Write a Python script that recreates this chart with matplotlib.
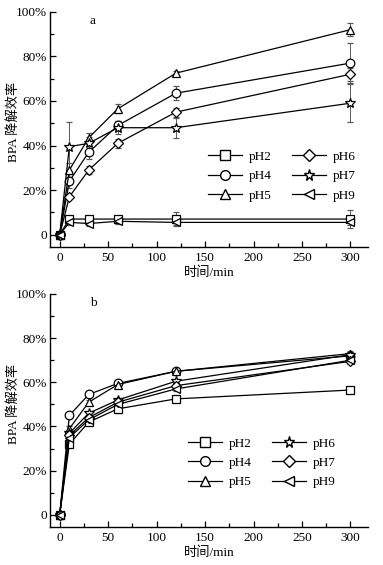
import matplotlib
matplotlib.use('Agg')
import matplotlib.pyplot as plt
from matplotlib.lines import Line2D
from matplotlib.ticker import MultipleLocator, FuncFormatter

# Data
time_min = [0, 10, 30, 60, 120, 300]

# panel a
a_labels = ['pH2', 'pH4', 'pH5', 'pH6', 'pH7', 'pH9']
a_markers = ['s', 'o', '^', 'D', '*', '<']
a_ph2 = [0, 7, 7, 7, 7, 7]
a_ph4 = [0, 24, 37, 49, 63.5, 77]
a_ph5 = [0, 29, 43.5, 56.5, 72.5, 92]
a_ph6 = [0, 17, 29, 41, 55, 72]
a_ph7 = [0, 39.5, 41, 48, 48, 59]
a_ph9 = [0, 5.5, 5, 6, 5.5, 5.5]
a_err_ph2 = [0, 1, 1, 1, 3, 4]
a_err_ph4 = [0, 3, 3, 2, 3, 9]
a_err_ph5 = [0, 3, 2, 2, 1, 3]
a_err_ph6 = [0, 1, 2, 2, 2, 3]
a_err_ph7 = [0, 11, 3, 3, 4.5, 8.5]
a_err_ph9 = [0, 1, 1, 1, 1, 1]

# panel b
b_labels = ['pH2', 'pH4', 'pH5', 'pH6', 'pH7', 'pH9']
b_markers = ['s', 'o', '^', '*', 'D', '<']
b_ph2 = [0, 32, 42, 48, 52.5, 56.5]
b_ph4 = [0, 45, 54.5, 59.5, 65, 72]
b_ph5 = [0, 39, 51, 59, 65, 73]
b_ph6 = [0, 37, 46, 52, 60.5, 72.5]
b_ph7 = [0, 36, 44, 51, 58.5, 69.5]
b_ph9 = [0, 35, 43, 50, 57, 70]
b_err_ph2 = [0, 1, 1, 2, 1, 1]
b_err_ph4 = [0, 1, 1, 1, 1, 1]
b_err_ph5 = [0, 1, 1, 1, 1, 1]
b_err_ph6 = [0, 1, 1, 1, 1, 1]
b_err_ph7 = [0, 1, 1, 1, 1, 1]
b_err_ph9 = [0, 1, 1, 1, 1, 1]

FONT = ['Liberation Serif', 'Noto Sans CJK SC']
plt.rcParams['font.family'] = FONT
plt.rcParams['font.size'] = 9.5

fig = plt.figure(figsize=(3.83, 5.65), dpi=100)
ax_a = fig.add_axes([0.1305, 0.563, 0.83, 0.416])
ax_b = fig.add_axes([0.1305, 0.0673, 0.83, 0.4124])


def pct(v, pos):
    return '0' if abs(v) < 1e-9 else '%d%%' % v


def msize(m):
    return 7.5 if m == '*' else (5.5 if m == 'D' else 6.2)


def style_axes(ax, tag):
    ax.set_xlim(-10, 318)
    ax.set_ylim(-5.5, 100)
    ax.spines['top'].set_visible(False)
    ax.spines['right'].set_visible(False)
    ax.xaxis.set_major_locator(MultipleLocator(50))
    ax.xaxis.set_minor_locator(MultipleLocator(25))
    ax.yaxis.set_major_locator(MultipleLocator(20))
    ax.yaxis.set_minor_locator(MultipleLocator(10))
    ax.yaxis.set_major_formatter(FuncFormatter(pct))
    ax.tick_params(which='both', direction='in', width=0.9, labelsize=9.5)
    ax.tick_params(which='major', length=4)
    ax.tick_params(which='minor', length=3)
    ax.tick_params(axis='y', pad=2)
    for s in ['left', 'bottom']:
        ax.spines[s].set_linewidth(1.0)
    ax.set_xlabel('时间/min', fontsize=9.5, labelpad=2)
    ax.set_ylabel('BPA 降解效率', fontsize=9.5)
    ax.yaxis.set_label_coords(-0.094, 0.53)
    ax.text(0.125, 0.985, tag, transform=ax.transAxes, fontsize=9.5, va='top')


def draw(ax, series, errs, labels, markers):
    handles = []
    for y, e, lab, m in zip(series, errs, labels, markers):
        ax.errorbar(time_min, y, yerr=e, color='black', lw=0.9,
                    marker=m, ms=msize(m), mfc='white', mec='black', mew=0.9,
                    ecolor='0.35', elinewidth=0.7, capsize=2, capthick=0.7)
        handles.append(Line2D([], [], color='black', lw=0.9, marker=m,
                              ms=msize(m) + 0.8, mfc='white', mec='black',
                              mew=1.0, label=lab))
    return handles


a_series = [a_ph2, a_ph4, a_ph5, a_ph6, a_ph7, a_ph9]
a_errs = [a_err_ph2, a_err_ph4, a_err_ph5, a_err_ph6, a_err_ph7, a_err_ph9]
b_series = [b_ph2, b_ph4, b_ph5, b_ph6, b_ph7, b_ph9]
b_errs = [b_err_ph2, b_err_ph4, b_err_ph5, b_err_ph6, b_err_ph7, b_err_ph9]

ha = draw(ax_a, a_series, a_errs, a_labels, a_markers)
hb = draw(ax_b, b_series, b_errs, b_labels, b_markers)
style_axes(ax_a, 'a')
style_axes(ax_b, 'b')

leg_kw = dict(ncol=2, frameon=False, loc='upper left', fontsize=9.5,
              handlelength=2.6, columnspacing=1.5, labelspacing=0.55,
              handletextpad=0.5, borderpad=0, borderaxespad=0)
ax_a.legend(handles=ha, bbox_to_anchor=(0.497, 0.41), **leg_kw)
ax_b.legend(handles=hb, bbox_to_anchor=(0.434, 0.385), **leg_kw)

fig.savefig('out.png', dpi=100, facecolor='white')
